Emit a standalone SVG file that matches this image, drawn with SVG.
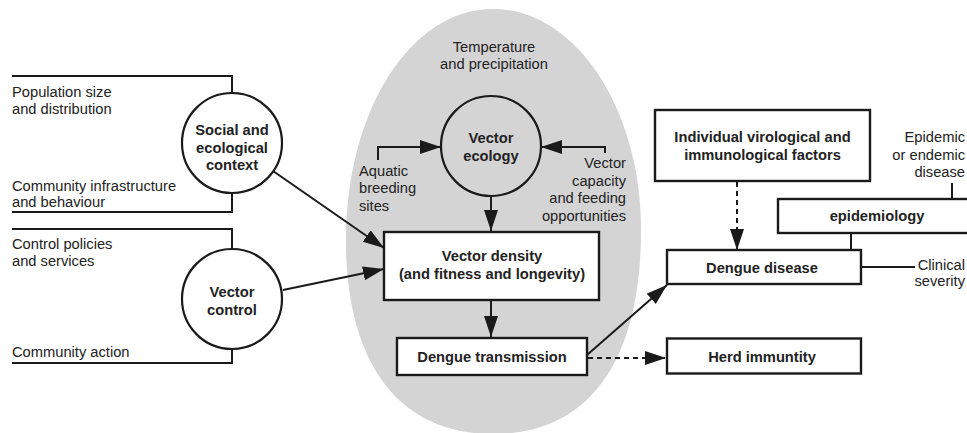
<svg xmlns="http://www.w3.org/2000/svg" width="967" height="433" viewBox="0 0 967 433">
<style>
text{font-family:"Liberation Sans",Arial,sans-serif;font-size:14.7px;fill:#222}
.b{font-weight:bold}
.m{text-anchor:middle}
.e{text-anchor:end}
.s{fill:none;stroke:#1a1a1a;stroke-width:2.2}
.box{fill:#fff;stroke:#1a1a1a;stroke-width:2.4}
.ln{fill:none;stroke:#1a1a1a;stroke-width:2}
.d{stroke-dasharray:5 4}
</style>
<defs>
<marker id="ah" markerUnits="userSpaceOnUse" markerWidth="22" markerHeight="16" refX="21" refY="7" orient="auto">
<path d="M0,0 L21,7 L0,14 z" fill="#1a1a1a"/>
</marker>
</defs>
<rect width="967" height="433" fill="#fff"/>
<path id="zone" d="M493,9 C575,9 641,108 641,230 C641,360 590,434 493,434 C396,434 346,360 346,240 C346,110 411,9 493,9 Z" fill="#d4d4d4"/>
<text class="m" x="494" y="51.5">Temperature</text>
<text class="m" x="494" y="69">and precipitation</text>

<g id="connectors">
<path class="ln" d="M12,76 H232 V93"/>
<path class="ln" d="M12,212 H232 V193"/>
<path class="ln" d="M12,229 H232 V249"/>
<path class="ln" d="M12,363 H232 V349"/>
<path class="ln" d="M378,160 V147 H441" marker-end="url(#ah)"/>
<path class="ln" d="M605,153 V147 H541" marker-end="url(#ah)"/>
<path class="ln" d="M491,196 V231" marker-end="url(#ah)"/>
<path class="ln" d="M491,300 V337" marker-end="url(#ah)"/>
<path class="ln" d="M273,171 L384,248" marker-end="url(#ah)"/>
<path class="ln" d="M283,290 L384,269" marker-end="url(#ah)"/>
<path class="ln" d="M587,355 L667,285" marker-end="url(#ah)"/>
<path class="ln d" d="M588,358 H666" marker-end="url(#ah)"/>
<path class="ln d" d="M737,182 V250" marker-end="url(#ah)"/>
<path class="ln" d="M851,233 V250"/>
<path class="ln" d="M952,183 V199"/>
<path class="ln" d="M861,267 H915"/>
</g>

<g id="social">
<circle class="s" cx="232" cy="143" r="50" fill="#fff"/>
<text class="b m" x="232" y="135">Social and</text>
<text class="b m" x="232" y="152.5">ecological</text>
<text class="b m" x="232" y="170">context</text>
</g>
<g id="social-labels">
<text x="12" y="97">Population size</text>
<text x="12" y="114">and distribution</text>
<text x="12" y="190.5">Community infrastructure</text>
<text x="12" y="207">and behaviour</text>
</g>

<g id="control">
<circle class="s" cx="232" cy="299" r="50" fill="#fff"/>
<text class="b m" x="232" y="297">Vector</text>
<text class="b m" x="232" y="314.5">control</text>
</g>
<g id="control-labels">
<text x="12" y="249">Control policies</text>
<text x="12" y="266">and services</text>
<text x="12" y="356.5">Community action</text>
</g>

<g id="ecology">
<circle class="s" cx="491" cy="146" r="50" fill="#fff"/>
<text class="b m" x="491" y="143">Vector</text>
<text class="b m" x="491" y="160.5">ecology</text>
</g>
<g id="aquatic">
<text x="359" y="175.5">Aquatic</text>
<text x="359" y="193">breeding</text>
<text x="359" y="210.5">sites</text>
</g>
<g id="capacity">
<text class="e" x="626" y="168">Vector</text>
<text class="e" x="626" y="185.5">capacity</text>
<text class="e" x="626" y="203">and feeding</text>
<text class="e" x="626" y="220.5">opportunities</text>
</g>

<g id="density">
<rect class="box" x="384" y="232" width="215" height="68"/>
<text class="b m" x="492" y="260.5">Vector density</text>
<text class="b m" x="492" y="278.5">(and fitness and longevity)</text>
</g>
<g id="transmission">
<rect class="box" x="397" y="338" width="190" height="37"/>
<text class="b m" x="492" y="362">Dengue transmission</text>
</g>
<g id="individual">
<rect class="box" x="655" y="110" width="215" height="71"/>
<text class="b m" x="762.5" y="141.5">Individual virological and</text>
<text class="b m" x="762.5" y="160">immunological factors</text>
</g>
<g id="epidemic">
<text class="e" x="965" y="141.5">Epidemic</text>
<text class="e" x="965" y="159.5">or endemic</text>
<text class="e" x="965" y="177">disease</text>
</g>
<g id="epidemiology">
<rect class="box" x="778" y="199" width="200" height="34"/>
<text class="b m" x="877" y="221">epidemiology</text>
</g>
<g id="disease">
<rect class="box" x="667" y="250" width="194" height="34"/>
<text class="b m" x="762" y="272.5">Dengue disease</text>
</g>
<g id="clinical">
<text class="e" x="965" y="270">Clinical</text>
<text class="e" x="965" y="286">severity</text>
</g>
<g id="herd">
<rect class="box" x="667" y="338.5" width="194" height="35"/>
<text class="b m" x="762" y="362">Herd immuntity</text>
</g>
</svg>
